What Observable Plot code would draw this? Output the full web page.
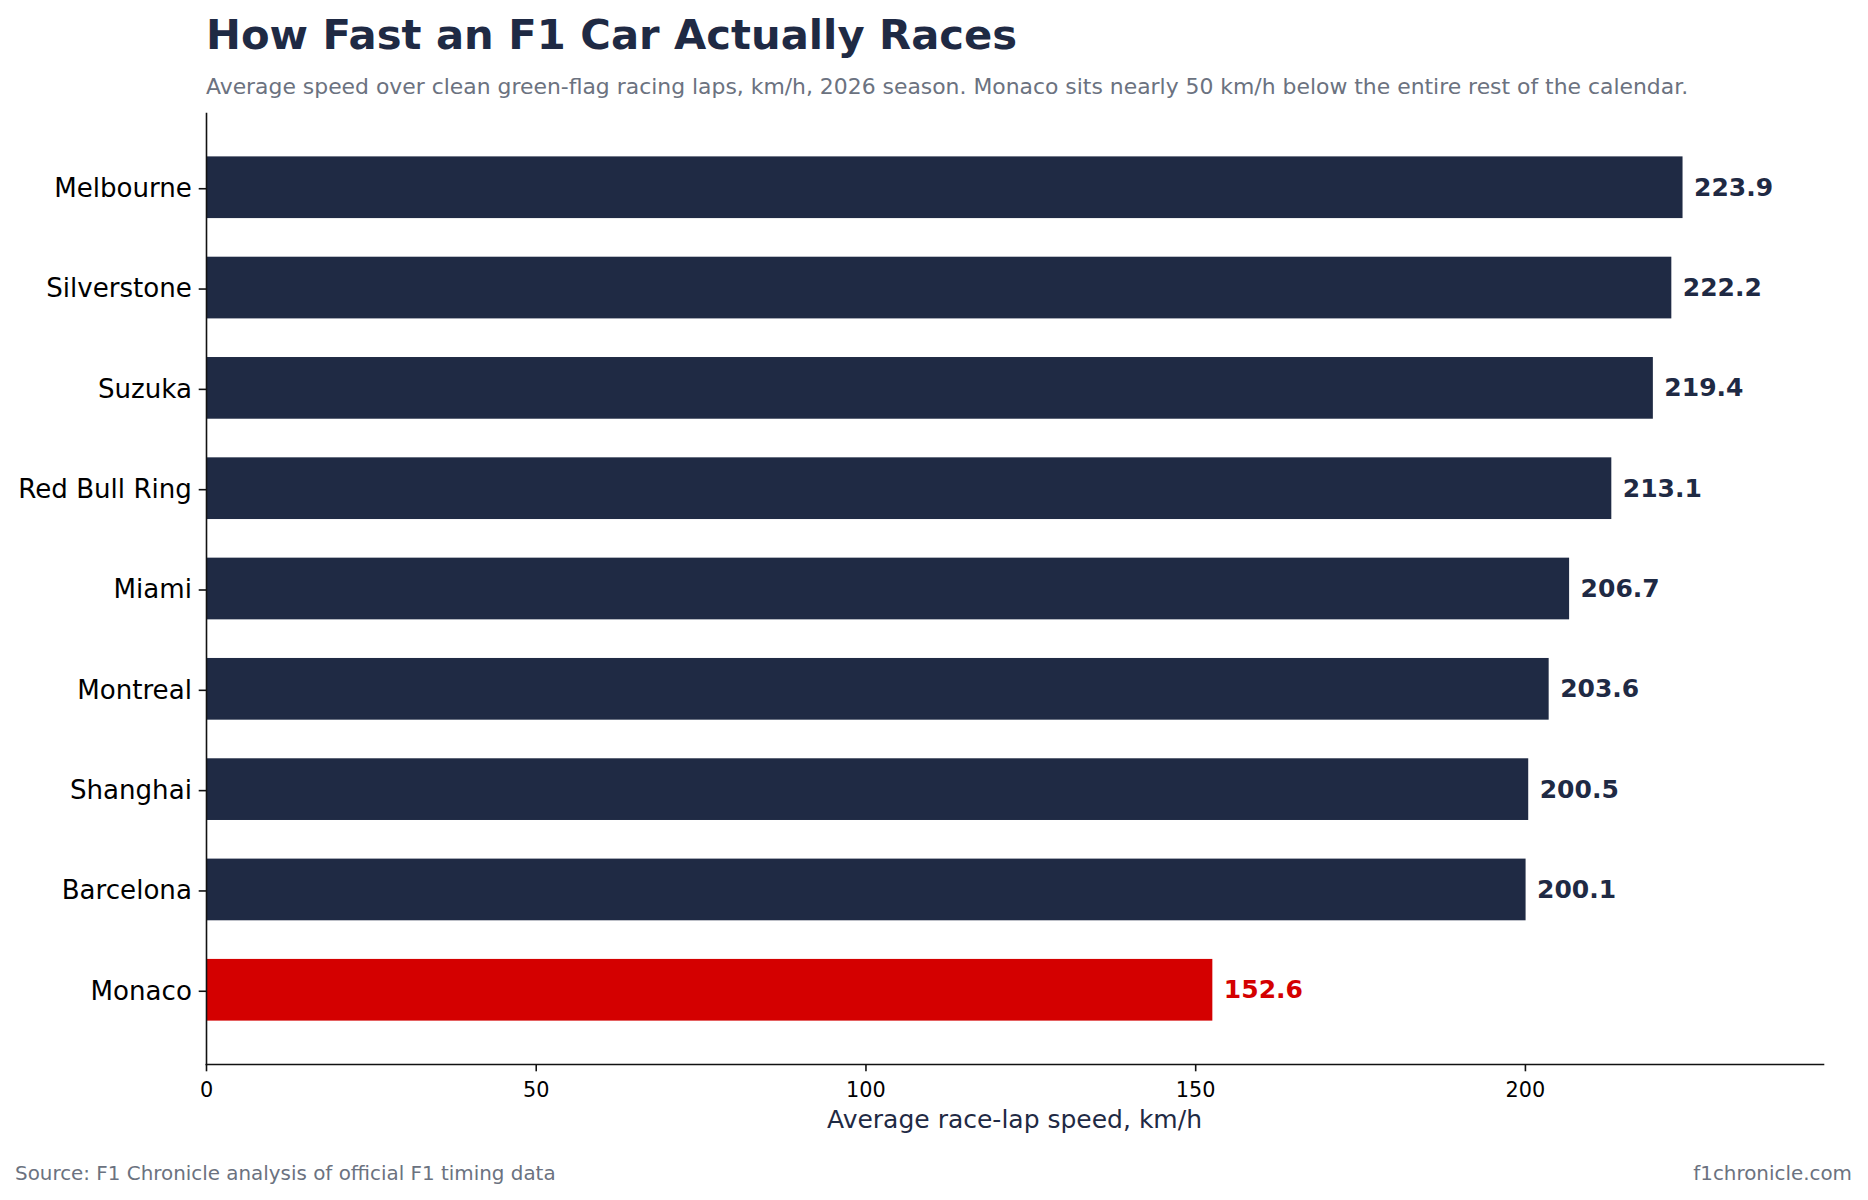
<!DOCTYPE html>
<html>
<head>
<meta charset="utf-8">
<script src="https://cdn.jsdelivr.net/npm/d3@7"></script>
<script src="https://cdn.jsdelivr.net/npm/@observablehq/plot@0.6"></script>
<style>
  html, body { margin: 0; padding: 0; background: #fff; }
  #wrap { position: relative; width: 1868px; height: 1200px; font-family: "DejaVu Sans", sans-serif; overflow: hidden; }
  #wrap svg { position: absolute; left: 0; top: 0; }
  .t { position: absolute; white-space: nowrap; line-height: 1; }
</style>
</head>
<body>
<div id="wrap">
  <div class="t" id="title" style="left:206px; top:13.7px; font-size:41.7px; font-weight:bold; color:#1f2a44;"></div>
  <div class="t" id="subtitle" style="left:206px; top:76px; font-size:21.9px; color:#6b7280;"></div>
  <div class="t" id="xlabel" style="left:1014.5px; top:1106.9px; font-size:25px; color:#1f2a44; transform:translateX(-50%);"></div>
  <div class="t" id="source" style="left:15px; top:1163.9px; font-size:19.9px; color:#6b7280;"></div>
  <div class="t" id="site" style="right:16px; top:1163.9px; font-size:19.9px; color:#6b7280;"></div>
</div>
<script>
const circuits = ["Melbourne", "Silverstone", "Suzuka", "Red Bull Ring", "Miami", "Montreal", "Shanghai", "Barcelona", "Monaco"];
const speeds = [223.9, 222.2, 219.4, 213.1, 206.7, 203.6, 200.5, 200.1, 152.6];
const highlight = ["Monaco"];
const xTicks = [0, 50, 100, 150, 200];

const titleText = "How Fast an F1 Car Actually Races";
const subtitleText = "Average speed over clean green-flag racing laps, km/h, 2026 season. Monaco sits nearly 50 km/h below the entire rest of the calendar.";
const xLabelText = "Average race-lap speed, km/h";
const sourceText = "Source: F1 Chronicle analysis of official F1 timing data";
const siteText = "f1chronicle.com";

const navy = "#1f2a44";
const red = "#d40000";

const data = circuits.map((c, i) => ({circuit: c, speed: speeds[i], hi: highlight.includes(c)}));

document.getElementById("title").textContent = titleText;
document.getElementById("subtitle").textContent = subtitleText;
document.getElementById("xlabel").textContent = xLabelText;
document.getElementById("source").textContent = sourceText;
document.getElementById("site").textContent = siteText;

const chart = Plot.plot({
  width: 1868,
  height: 1200,
  marginTop: 113,
  marginBottom: 136,
  marginLeft: 206,
  marginRight: 45,
  style: {fontFamily: "DejaVu Sans", background: "transparent", overflow: "visible"},
  x: {domain: [0, 245.2], label: null},
  y: {domain: circuits, type: "band", paddingInner: 0.385, paddingOuter: 0.4325, round: false, label: null},
  marks: [
    Plot.barX(data, {x: "speed", y: "circuit", fill: d => d.hi ? red : navy}),
    Plot.text(data, {x: "speed", y: "circuit", text: d => d.speed.toFixed(1), dx: 11, textAnchor: "start",
      fontWeight: "bold", fontSize: 25, fill: d => d.hi ? red : navy}),
    Plot.axisX({ticks: xTicks, tickSize: 7.3, tickPadding: 10, fontSize: 20.8, stroke: "#111", fill: "#000", label: null, strokeWidth: 1.6}),
    Plot.axisY({tickSize: 7.3, tickPadding: 7.3, fontSize: 26.1, dy: 1, stroke: "#111", fill: "#000", label: null, strokeWidth: 1.6}),
    Plot.frame({anchor: "left", stroke: "#111", strokeWidth: 1.6}),
    Plot.frame({anchor: "bottom", stroke: "#111", strokeWidth: 1.6})
  ]
});
document.getElementById("wrap").prepend(chart);
</script>
</body>
</html>
